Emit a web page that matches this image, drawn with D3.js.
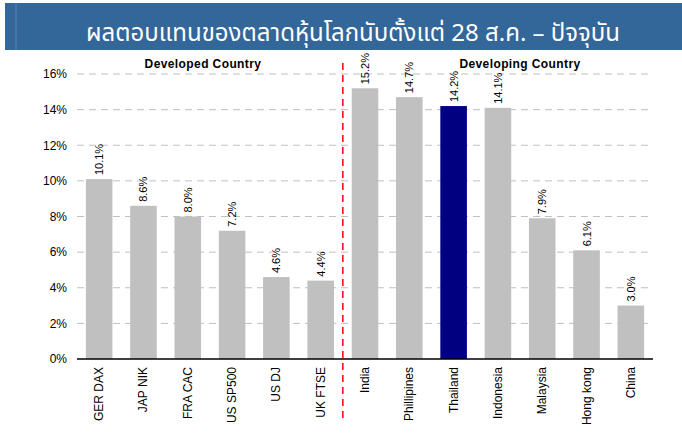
<!DOCTYPE html>
<html>
<head>
<meta charset="utf-8">
<script src="https://cdn.jsdelivr.net/npm/d3@7"></script>
<style>
  body { margin: 0; background: #fff; }
  svg { display: block; font-family: "Liberation Sans", Arial, sans-serif; }
</style>
</head>
<body>
<svg id="chart" width="682" height="435"></svg>
<script>
// data
const markets = ["GER DAX", "JAP NIK", "FRA CAC", "US SP500", "US DJ", "UK FTSE",
                 "India", "Phillipines", "Thailand", "Indonesia", "Malaysia", "Hong kong", "China"];
const returns = [10.1, 8.6, 8.0, 7.2, 4.6, 4.4, 15.2, 14.7, 14.2, 14.1, 7.9, 6.1, 3.0];
const groups = ["Developed Country", "Developing Country"];
const developedCount = 6;
const highlight = "Thailand";
const yTicks = [0, 2, 4, 6, 8, 10, 12, 14, 16];
const title = "ผลตอบแทนของตลาดหุ้นโลกนับตั้งแต่ 28 ส.ค. – ปัจจุบัน";

const svg = d3.select("#chart");
const m = { top: 74, left: 77, right: 29, bottom: 76 };
const W = 682, H = 435;
const w = W - m.left - m.right, h = H - m.top - m.bottom;

// header banner
svg.append("rect").attr("x", 5).attr("y", 3).attr("width", 677).attr("height", 47)
  .attr("fill", "#336699");
svg.append("line").attr("x1", 16).attr("x2", 16).attr("y1", 3).attr("y2", 50)
  .attr("stroke", "#5a86b3").attr("stroke-width", 1);
svg.append("text").attr("x", 353).attr("y", 41).attr("text-anchor", "middle")
  .attr("fill", "#fff").style("font-size", "24px")
  .style("font-family", "'Noto Sans Thai', 'Noto Sans', 'DejaVu Sans', sans-serif")
  .text(title);

const g = svg.append("g").attr("transform", `translate(${m.left},${m.top})`);

const x = d3.scaleBand().domain(markets).range([0, w]).paddingInner(0.4).paddingOuter(0.2);
const y = d3.scaleLinear().domain([0, 16]).range([h, 0]);

// grid
g.append("g").selectAll("line").data(yTicks.filter(d => d > 0)).join("line")
  .attr("x1", 0).attr("x2", w)
  .attr("y1", d => y(d)).attr("y2", d => y(d))
  .attr("stroke", "#c0c0c0").attr("stroke-dasharray", "7,5");

// y axis labels
const yAxis = g.append("g")
  .call(d3.axisLeft(y).tickValues(yTicks).tickFormat(d => d + "%").tickSize(0).tickPadding(10));
yAxis.select(".domain").remove();
yAxis.selectAll("text").style("font-size", "12px").attr("fill", "#000")
  .style("font-family", "'Liberation Sans', Arial, sans-serif");

// bars
g.selectAll(".bar").data(markets).join("rect")
  .attr("x", d => x(d)).attr("width", x.bandwidth())
  .attr("y", (d, i) => y(returns[i])).attr("height", (d, i) => h - y(returns[i]))
  .attr("fill", d => d === highlight ? "#000080" : "#c0c0c0");

// value labels
g.selectAll(".val").data(markets).join("text")
  .attr("transform", (d, i) => `translate(${x(d) + x.bandwidth() / 2 + 4},${y(returns[i]) - 4}) rotate(-90)`)
  .style("font-size", "11px").attr("fill", "#000")
  .text((d, i) => returns[i].toFixed(1) + "%");

// x axis line
g.append("line").attr("x1", 0).attr("x2", w).attr("y1", h).attr("y2", h)
  .attr("stroke", "#000").attr("stroke-width", 1.5);

// category labels
g.selectAll(".cat").data(markets).join("text")
  .attr("transform", d => `translate(${x(d) + x.bandwidth() / 2 + 4},${h + 8}) rotate(-90)`)
  .attr("text-anchor", "end")
  .style("font-size", "12px").attr("fill", "#000")
  .text(d => d);

// divider
const divX = (x(markets[developedCount - 1]) + x.bandwidth() + x(markets[developedCount])) / 2;
g.append("line").attr("x1", divX).attr("x2", divX).attr("y1", -11).attr("y2", h + 64)
  .attr("stroke", "#ff0000").attr("stroke-width", 1.5).attr("stroke-dasharray", "7,5");

// group labels
svg.append("text").attr("x", 203).attr("y", 68).attr("text-anchor", "middle")
  .style("font-size", "12px").style("font-weight", "bold").style("letter-spacing", "0.4px")
  .text(groups[0]);
svg.append("text").attr("x", 520).attr("y", 68).attr("text-anchor", "middle")
  .style("font-size", "12px").style("font-weight", "bold").style("letter-spacing", "0.4px")
  .text(groups[1]);
</script>
</body>
</html>
